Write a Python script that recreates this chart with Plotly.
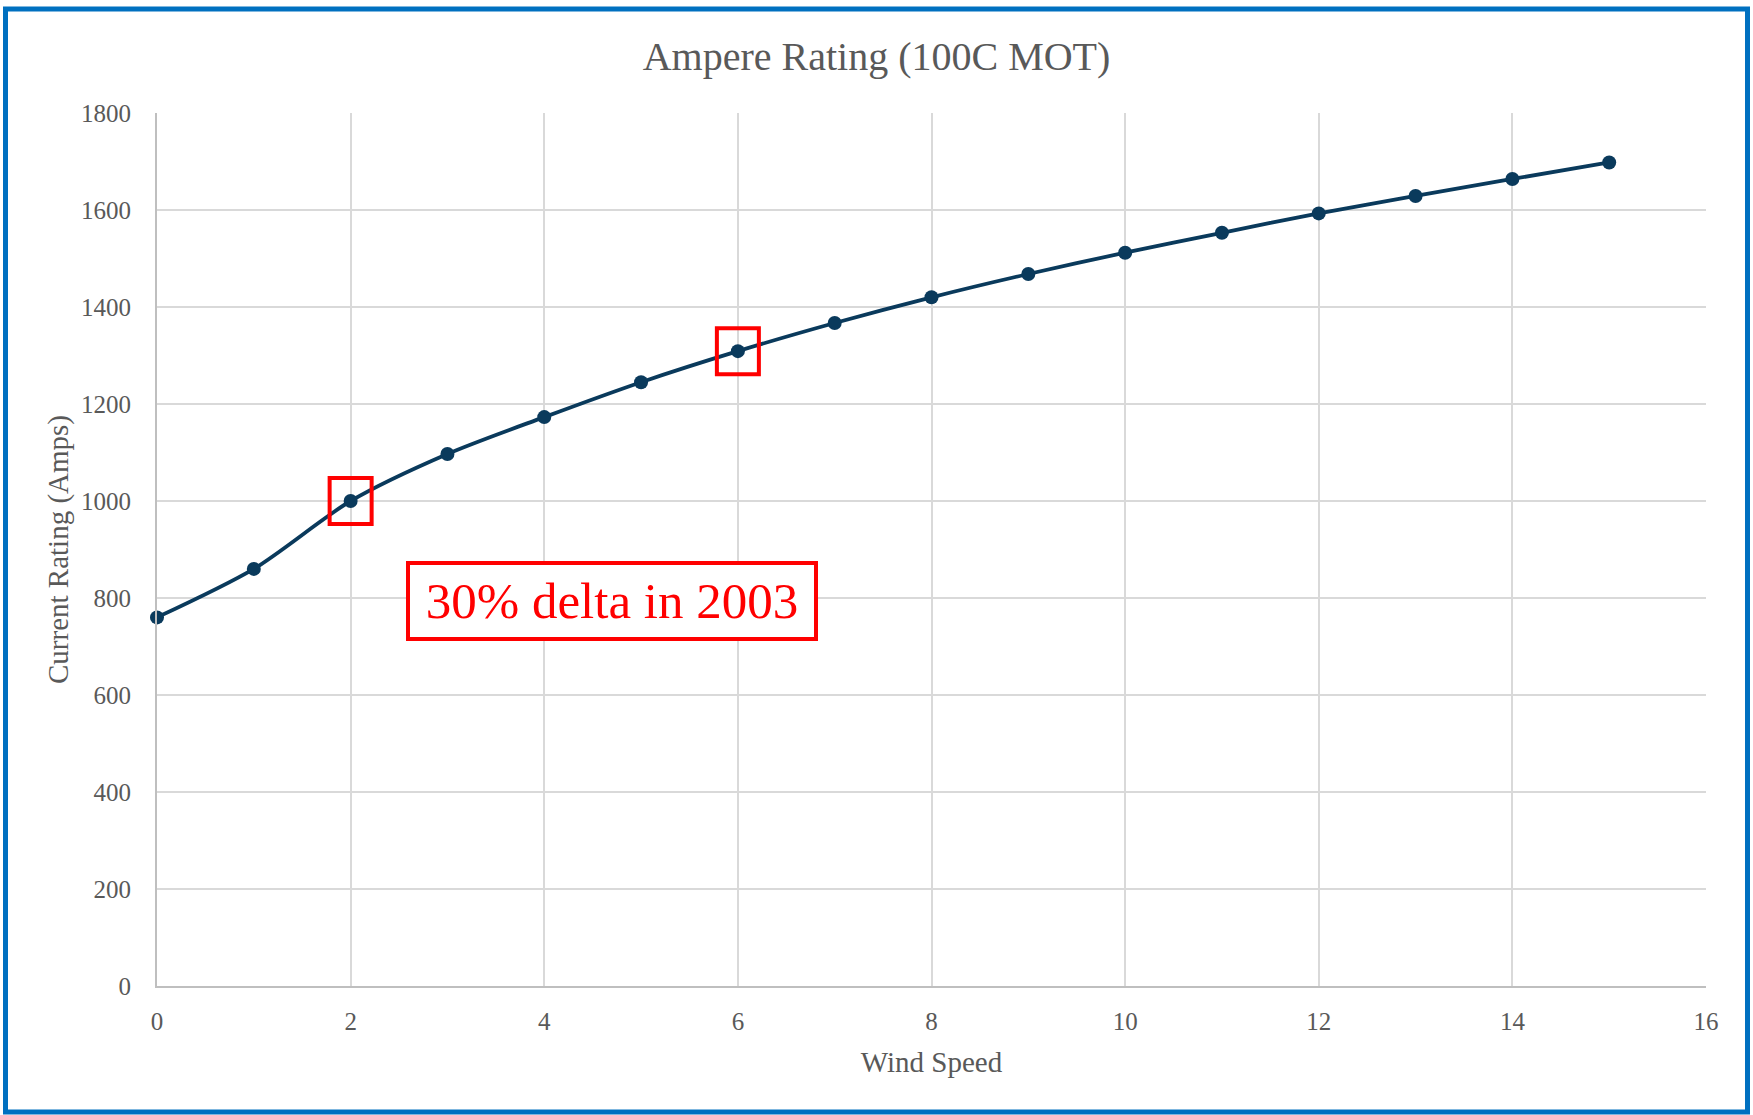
import plotly.graph_objects as go

# Ampere rating vs wind speed at 100C maximum operating temperature
wind_speed = [0, 1, 2, 3, 4, 5, 6, 7, 8, 9, 10, 11, 12, 13, 14, 15]
current_rating = [760, 860, 1000, 1097, 1173, 1245, 1309, 1367, 1420, 1468,
                  1512, 1553, 1593, 1629, 1664, 1698]

# points called out with red squares
highlight_x = [2, 6]
highlight_y = [1000, 1309]

x_ticks = [0, 2, 4, 6, 8, 10, 12, 14, 16]
y_ticks = [0, 200, 400, 600, 800, 1000, 1200, 1400, 1600, 1800]

W, H = 1753, 1115
ML, MR, MT, MB = 157, 47, 113, 129
FONT = "Liberation Serif, Palatino, serif"
GREY = "#595959"
LINE = "#0a3a5c"
RED = "#ff0000"

fig = go.Figure()
fig.add_trace(go.Scatter(
    x=wind_speed, y=current_rating, mode="lines+markers",
    line=dict(color=LINE, width=3.8, shape="spline", smoothing=0.8),
    marker=dict(color=LINE, size=14),
    cliponaxis=False, showlegend=False, hoverinfo="x+y",
))

for hx, hy in zip(highlight_x, highlight_y):
    fig.add_shape(type="rect", xref="x", yref="y",
                  xsizemode="pixel", ysizemode="pixel",
                  xanchor=hx, yanchor=hy,
                  x0=-21, x1=21, y0=-23, y1=23,
                  line=dict(color=RED, width=4), fillcolor="rgba(0,0,0,0)")

fig.add_annotation(x=4.7, y=794, xref="x", yref="y",
                   text="30% delta in 2003", showarrow=False,
                   font=dict(family=FONT, size=51, color=RED),
                   bgcolor="white", bordercolor=RED, borderwidth=4,
                   borderpad=2, width=400, height=68, align="center")

# outer frame around the whole chart
pw, ph = W - ML - MR, H - MT - MB
def px_x(p):
    return (p - ML) / pw
def px_y(p):
    return (H - MB - p) / ph

fig.add_shape(type="rect", xref="paper", yref="paper",
              x0=px_x(5.5), x1=px_x(1747.5), y0=px_y(1112), y1=px_y(9),
              line=dict(color="#0070c0", width=5), layer="above")

fig.update_layout(
    width=W, height=H,
    margin=dict(l=ML, r=MR, t=MT, b=MB, autoexpand=False),
    paper_bgcolor="white", plot_bgcolor="white",
    font=dict(family=FONT, color=GREY),
    title=dict(text="Ampere Rating (100C MOT)", x=0.5, xref="container",
               y=1 - 56 / H, yanchor="middle", yref="container",
               font=dict(family=FONT, size=40, color=GREY)),
    xaxis=dict(range=[0, 16], tickvals=x_ticks, showgrid=True,
               gridcolor="#d9d9d9", gridwidth=1.5, showline=True,
               linecolor="#bfbfbf", linewidth=2, zeroline=False,
               ticks="", ticklabelstandoff=12,
               tickfont=dict(size=25, color=GREY),
               title=dict(text="Wind Speed", font=dict(size=29, color=GREY),
                          standoff=18)),
    yaxis=dict(range=[0, 1800], tickvals=y_ticks, showgrid=True,
               gridcolor="#d9d9d9", gridwidth=1.5, showline=True,
               linecolor="#bfbfbf", linewidth=2, zeroline=False,
               ticks="", ticklabelstandoff=19,
               tickfont=dict(size=25, color=GREY),
               title=dict(text="Current Rating (Amps)",
                          font=dict(size=29, color=GREY), standoff=4)),
)

fig.write_html("out.html")
